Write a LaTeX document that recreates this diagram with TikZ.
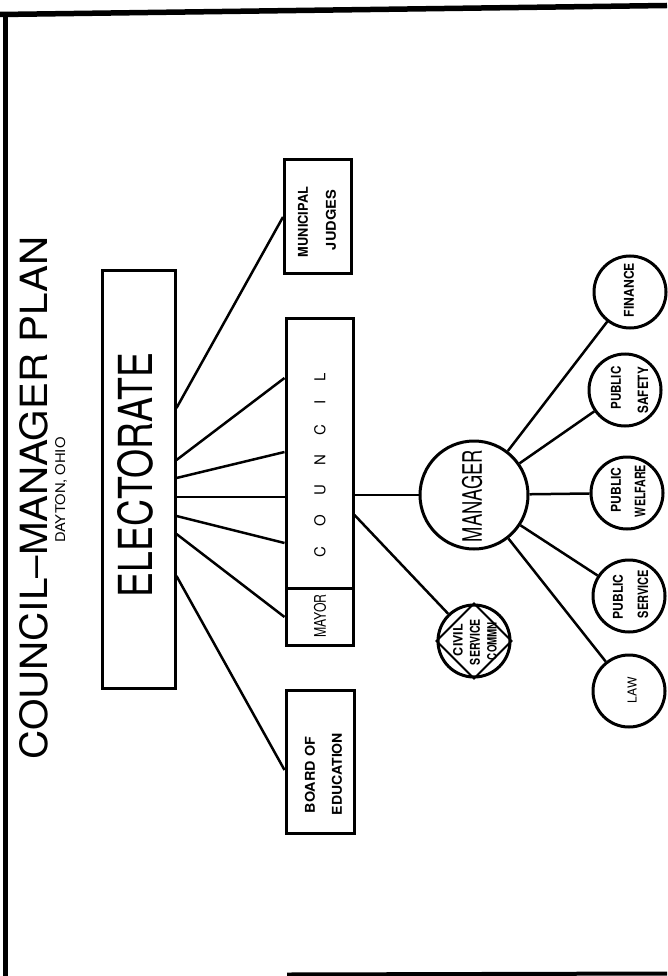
\documentclass[tikz,border=0pt]{standalone}
\usepackage{fontspec}
\setmainfont{TeX Gyre Heros}
\usetikzlibrary{calc}
% scale a label to a given length (pt) and cap height (pt)
\newcommand\fitlabel[3]{\resizebox{#1pt}{#2pt}{#3}}
\begin{document}
\begin{tikzpicture}[x=1pt,y=-1pt,
  frameline/.style={line width=5.5pt},
  boxnode/.style={draw, line width=3pt, rectangle, inner sep=0pt},
  ringnode/.style={draw, line width=3pt, circle, inner sep=0pt, minimum size=72pt},
  bossnode/.style={draw, line width=3pt, circle, inner sep=0pt, minimum size=108pt},
  txt/.style={inner sep=0pt, rotate=90},
  link/.style={line width=2.5pt}]
\useasboundingbox (0,0) rectangle (667,976);

% outer frame
\draw[frameline] (0,14.5) -- (667,5.5);
\draw[frameline] (5.5,12) -- (5.5,976);
\draw[line width=4pt] (287,974.5) -- (667,973.5);

% title
\node[txt] (title) at (34,498) {\fitlabel{523}{28}{COUNCIL–MANAGER PLAN}};
\node[txt] (place) at (61,490) {\fitlabel{105}{10}{DAYTON, OHIO}};

% electorate
\node[boxnode, minimum width=73pt, minimum height=418pt] (elect) at (138.5,479) {};
\node[txt] (electtxt) at (135,475) {\fitlabel{244}{35}{ELECTORATE}};

% elected bodies
\node[boxnode, minimum width=67pt, minimum height=113pt] (judges) at (318,216.5) {};
\node[txt] (judges1) at (303,222) {\fitlabel{70}{10}{\bfseries MUNICIPAL}};
\node[txt] (judges2) at (331,220) {\fitlabel{60}{10}{\bfseries JUDGES}};

\node[boxnode, minimum width=67pt, minimum height=270pt] (council) at (319.5,453) {};
\node[boxnode, minimum width=67pt, minimum height=57pt] (mayor) at (319.5,616.5) {};
\node[txt] (counciltxt) at (320,465) {\fontsize{15}{15}\selectfont
  \makebox[184pt]{C\hfill O\hfill U\hfill N\hfill C\hfill I\hfill L}};
\node[txt] (mayortxt) at (320,616) {\fitlabel{43}{12}{MAYOR}};

\node[boxnode, minimum width=68pt, minimum height=143pt] (board) at (320,761.5) {};
\node[txt] (board1) at (310,775) {\fitlabel{76}{10}{\bfseries BOARD OF}};
\node[txt] (board2) at (337,774) {\fitlabel{82}{10}{\bfseries EDUCATION}};

% manager and civil service commission
\node[bossnode] (manager) at (474,495) {};
\node[txt] (managertxt) at (472,496) {\fitlabel{92}{20}{MANAGER}};

\node[ringnode] (civil) at (474,641) {};
\draw[line width=2pt] (civil.north) -- (civil.east) -- (civil.south) -- (civil.west) -- cycle;
\node[txt] (civil1) at (458,640) {\fitlabel{32}{9.5}{\bfseries CIVIL}};
\node[txt] (civil2) at (475,642) {\fitlabel{46}{10}{\bfseries SERVICE}};
\node[txt] (civil3) at (492,641) {\fitlabel{38}{9.5}{\bfseries COMMN}};

% departments
\node[ringnode] (finance) at (630,292) {};
\node[txt] (financetxt) at (629,290) {\fitlabel{54}{10}{\bfseries FINANCE}};

\node[ringnode] (safety) at (625,390) {};
\node[txt] (safety1) at (616,388) {\fitlabel{43}{10}{\bfseries PUBLIC}};
\node[txt] (safety2) at (643,390) {\fitlabel{46}{10.5}{\bfseries SAFETY}};

\node[ringnode] (welfare) at (627,493) {};
\node[txt] (welfare1) at (616,490) {\fitlabel{45}{10}{\bfseries PUBLIC}};
\node[txt] (welfare2) at (640,491) {\fitlabel{52}{10.5}{\bfseries WELFARE}};

\node[ringnode] (service) at (629,596) {};
\node[txt] (service1) at (618,597) {\fitlabel{45}{10}{\bfseries PUBLIC}};
\node[txt] (service2) at (643,594) {\fitlabel{48}{10.5}{\bfseries SERVICE}};

\node[ringnode] (law) at (629,691) {};
\node[txt] (lawtxt) at (632,690) {\fitlabel{26}{9}{LAW}};

% electorate chooses
\draw[link] (elect.east |- 0,408) -- (judges.west |- 0,217);
\draw[link] (elect.east |- 0,460) -- (council.west |- 0,378);
\draw[link] (elect.east |- 0,478) -- (council.west |- 0,452);
\draw[link] (elect.east |- 0,497) -- (council.west |- 0,497);
\draw[link] (elect.east |- 0,516) -- (council.west |- 0,543);
\draw[link] (elect.east |- 0,534) -- (mayor.west |- 0,617);
\draw[link] (elect.east |- 0,576) -- (board.west |- 0,770);

% council appoints
\draw[link] (council.east |- manager.west) -- (manager.west);
\draw[link] (council.east |- 0,515) -- (civil);

% manager directs
\draw[link] (manager) -- (finance);
\draw[link] (manager) -- (safety);
\draw[link] (manager) -- (welfare);
\draw[link] (manager) -- (service);
\draw[link] (manager) -- (law);
\end{tikzpicture}
\end{document}
